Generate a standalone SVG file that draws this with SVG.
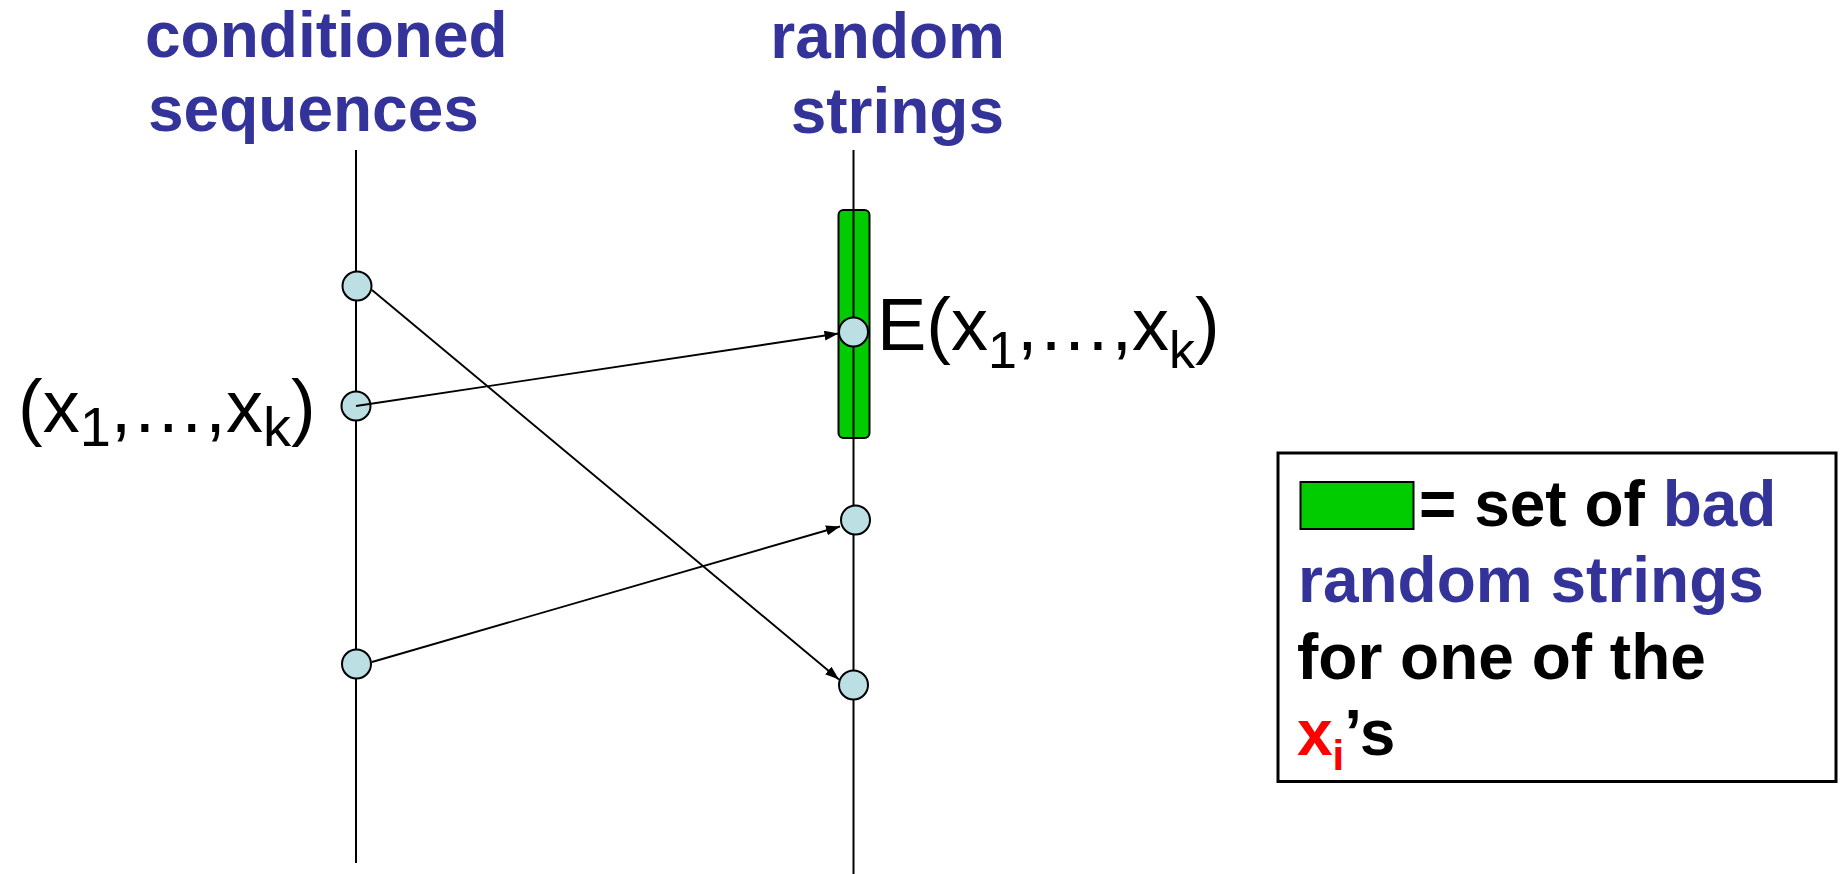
<svg xmlns="http://www.w3.org/2000/svg" width="1841" height="874" viewBox="0 0 1841 874">
  <style>
    .bold { font-family: "Liberation Sans", Arial, sans-serif; font-weight: bold; font-size: 64px; }
    .reg { font-family: "Liberation Sans", Arial, sans-serif; font-size: 74px; fill: #000; }
    .blue { fill: #333399; }
    .blk { fill: #000000; }
    .red { fill: #ff0000; }
    .axis { stroke: #000; stroke-width: 2; fill: none; }
    .pt { fill: #bbdfe3; stroke: #000; stroke-width: 2; }
    .conn { stroke: #000; stroke-width: 1.9; fill: none; marker-end: url(#arrow); }
    .green { fill: #00cc00; stroke: #000; stroke-width: 2; }
  </style>
  <defs>
    <marker id="arrow" markerUnits="userSpaceOnUse" markerWidth="15" markerHeight="11" refX="14" refY="5" orient="auto">
      <path d="M0,0 L14,5 L0,10 z" fill="#000"/>
    </marker>
  </defs>
  <rect width="1841" height="874" fill="#ffffff"/>

  <g id="header-left">
    <text class="bold blue" x="145" y="57">conditioned</text>
    <text class="bold blue" x="148" y="131">sequences</text>
  </g>
  <g id="header-right">
    <text class="bold blue" x="1005" y="58" text-anchor="end">random</text>
    <text class="bold blue" x="1004" y="133" text-anchor="end">strings</text>
  </g>

  <g id="bad-set">
    <rect class="green" x="838.5" y="210" width="31" height="228" rx="5" ry="5"/>
  </g>

  <g id="axes">
    <line class="axis" x1="356" y1="150" x2="356" y2="863"/>
    <line class="axis" x1="853.5" y1="150" x2="853.5" y2="874"/>
  </g>

  <g id="left-points">
    <circle id="l1" class="pt" cx="357" cy="286" r="14.5"/>
    <circle id="l2" class="pt" cx="356" cy="406" r="14.5"/>
    <circle id="l3" class="pt" cx="356.5" cy="664" r="14.5"/>
  </g>
  <g id="right-points">
    <circle id="r1" class="pt" cx="853.5" cy="332" r="14.5"/>
    <circle id="r2" class="pt" cx="855.5" cy="520" r="14.5"/>
    <circle id="r3" class="pt" cx="853.5" cy="685" r="14.5"/>
  </g>

  <g id="connectors">
    <line class="conn" x1="372" y1="290" x2="839" y2="679.5"/>
    <line class="conn" x1="356" y1="406" x2="838.5" y2="333.5"/>
    <line class="conn" x1="372" y1="662" x2="840" y2="526.5"/>
  </g>

  <g id="label-x">
    <text class="reg" x="18" y="431.5" font-size="72">(x<tspan font-size="56" dy="14">1</tspan><tspan dy="-14">,…,x</tspan><tspan font-size="56" dy="14">k</tspan><tspan dy="-14">)</tspan></text>
  </g>
  <g id="label-E">
    <text class="reg" x="877" y="350">E(x<tspan font-size="52" dy="18">1</tspan><tspan dy="-18">,…,x</tspan><tspan font-size="52" dy="18">k</tspan><tspan dy="-18">)</tspan></text>
  </g>

  <g id="legend">
    <rect x="1278" y="453" width="558" height="328.5" fill="#ffffff" stroke="#000" stroke-width="3"/>
    <rect class="green" x="1300.5" y="482" width="113" height="47"/>
    <text class="bold blk" x="1419" y="526">= set of <tspan class="blue">bad</tspan></text>
    <text class="bold blue" x="1298" y="602">random strings</text>
    <text class="bold blk" x="1297" y="678.5">for one of the</text>
    <text class="bold blk" x="1297" y="755"><tspan class="red">x</tspan><tspan class="red" font-size="42" dy="15">i</tspan><tspan dy="-15">’s</tspan></text>
  </g>
</svg>
